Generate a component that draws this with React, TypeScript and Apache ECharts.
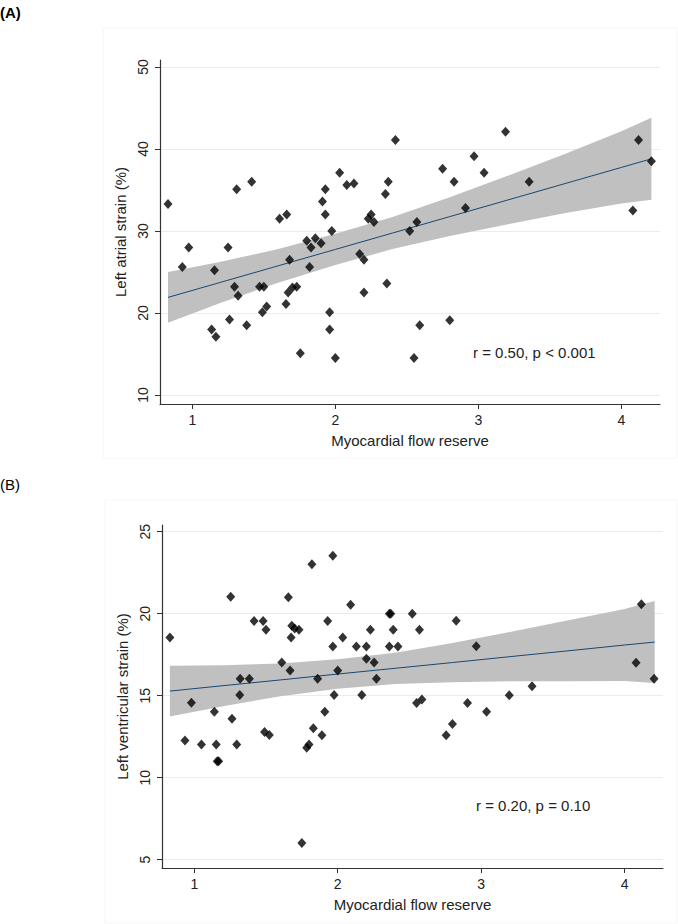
import React, { useEffect, useRef } from "react";
import * as echarts from "echarts";

// Panel A: myocardial flow reserve vs left atrial strain (%)
const mfrA = [0.83, 0.93, 0.975, 1.135, 1.155, 1.165, 1.25, 1.26, 1.295, 1.31, 1.32, 1.38, 1.415, 1.47, 1.5, 1.49, 1.52, 1.61, 1.655, 1.66, 1.67, 1.68, 1.7, 1.73, 1.755, 1.8, 1.82, 1.83, 1.86, 1.9, 1.91, 1.93, 1.93, 1.96, 1.96, 1.975, 2.0, 2.03, 2.08, 2.13, 2.17, 2.2, 2.2, 2.23, 2.25, 2.27, 2.35, 2.36, 2.37, 2.42, 2.52, 2.55, 2.57, 2.59, 2.75, 2.8, 2.83, 2.91, 2.97, 3.04, 3.19, 3.355, 4.08, 4.12, 4.21];
const lasA = [33.3, 25.6, 28.0, 18.0, 25.2, 17.1, 28.0, 19.2, 23.2, 35.1, 22.1, 18.5, 36.0, 23.2, 23.2, 20.1, 20.8, 31.5, 21.1, 32.0, 22.5, 26.5, 23.1, 23.2, 15.1, 28.8, 25.6, 28.0, 29.1, 28.5, 33.6, 35.1, 32.0, 20.1, 18.0, 30.0, 14.5, 37.1, 35.6, 35.8, 27.2, 26.5, 22.5, 31.5, 32.0, 31.1, 34.5, 23.6, 36.0, 41.1, 30.0, 14.5, 31.1, 18.5, 37.6, 19.1, 36.0, 32.8, 39.1, 37.1, 42.1, 36.0, 32.5, 41.1, 38.5];

// Panel B: myocardial flow reserve vs left ventricular strain (%)
const mfrB = [0.83, 0.935, 0.98, 1.05, 1.14, 1.153, 1.16, 1.17, 1.254, 1.263, 1.296, 1.317, 1.32, 1.384, 1.417, 1.48, 1.49, 1.5, 1.523, 1.61, 1.656, 1.668, 1.675, 1.68, 1.7, 1.73, 1.75, 1.784, 1.8, 1.82, 1.83, 1.86, 1.89, 1.91, 1.93, 1.966, 1.966, 1.975, 2.0, 2.035, 2.09, 2.13, 2.168, 2.2, 2.2, 2.228, 2.254, 2.27, 2.36, 2.37, 2.36, 2.387, 2.42, 2.52, 2.55, 2.57, 2.587, 2.756, 2.8, 2.826, 2.905, 2.966, 3.038, 3.196, 3.355, 4.08, 4.117, 4.206];
const lvsB = [18.55, 12.26, 14.57, 12.03, 14.02, 12.03, 11.0, 11.0, 21.04, 13.6, 12.03, 15.04, 16.04, 16.04, 19.55, 19.55, 12.78, 19.02, 12.6, 17.03, 21.01, 16.54, 18.55, 19.27, 19.09, 19.02, 6.01, 11.83, 12.03, 23.02, 13.02, 16.04, 12.58, 14.02, 19.55, 23.54, 18.0, 15.04, 16.54, 18.55, 20.55, 18.0, 15.04, 18.0, 17.26, 19.02, 17.03, 16.04, 20.0, 20.0, 18.0, 19.02, 18.0, 20.0, 14.55, 19.02, 14.77, 12.58, 13.27, 19.57, 14.55, 18.02, 14.02, 15.02, 15.57, 17.01, 20.57, 16.04];

// Fitted line with 95% CI band
const fitX = [0.83, 1.2, 1.6, 2.0, 2.4, 2.8, 3.2, 3.6, 4.0, 4.21];
const fitA = [21.9, 23.75, 25.75, 27.75, 29.75, 31.75, 33.75, 35.75, 37.75, 38.8];
const loA = [18.8, 21.25, 23.7, 25.85, 27.8, 29.4, 30.8, 32.15, 33.35, 33.8];
const hiA = [25.0, 26.25, 27.8, 29.65, 31.7, 34.1, 36.7, 39.35, 42.15, 43.8];
const fitB = [15.28, 15.61, 15.96, 16.32, 16.67, 17.02, 17.38, 17.73, 18.09, 18.27];
const loB = [13.73, 14.36, 14.96, 15.42, 15.72, 15.82, 15.88, 15.88, 15.89, 15.77];
const hiB = [16.83, 16.86, 16.96, 17.22, 17.62, 18.22, 18.88, 19.58, 20.29, 20.77];

const xTicks = [1, 2, 3, 4];
const yTicksA = [10, 20, 30, 40, 50];
const yTicksB = [5, 10, 15, 20, 25];

const FONT = "'Liberation Sans', Arial, sans-serif";
const TXT = "#222";
const GRID = "#e4eef0";
const BAND = "#c0c0c0";
const LINE = "#1a476f";

function xAxis(gridIndex: number, min: number, max: number) {
  return {
    type: "value",
    gridIndex,
    min,
    max,
    name: "Myocardial flow reserve",
    nameLocation: "middle",
    nameGap: 29,
    nameTextStyle: { color: TXT, fontSize: 15, fontFamily: FONT },
    axisLine: { show: true, onZero: false, lineStyle: { color: "#333", width: 1.2 } },
    axisTick: { show: true, length: 5, customValues: xTicks, lineStyle: { color: "#333" } },
    axisLabel: { customValues: xTicks, color: TXT, fontSize: 14, fontFamily: FONT, margin: 9 },
    splitLine: { show: false },
  };
}

function yAxis(gridIndex: number, min: number, max: number, ticks: number[], name: string) {
  return {
    type: "value",
    gridIndex,
    min,
    max,
    name,
    nameLocation: "middle",
    nameRotate: 90,
    nameGap: 28,
    nameTextStyle: { color: TXT, fontSize: 15, fontFamily: FONT },
    axisLine: { show: true, onZero: false, lineStyle: { color: "#333", width: 1.2 } },
    axisTick: { show: true, length: 5, customValues: ticks, lineStyle: { color: "#333" } },
    axisLabel: { customValues: ticks, rotate: 90, color: TXT, fontSize: 14, fontFamily: FONT, margin: 10 },
    splitLine: { show: true, lineStyle: { color: GRID, width: 1 } },
  };
}

function bandSeries(idx: number, lo: number[], hi: number[]) {
  return {
    type: "custom",
    xAxisIndex: idx,
    yAxisIndex: idx,
    silent: true,
    z: 1,
    data: fitX.map((x, i) => [x, lo[i], hi[i]]),
    renderItem: (params: any, api: any) => {
      if (params.dataIndex !== 0) return null;
      const top = fitX.map((x, i) => api.coord([x, hi[i]]));
      const bottom = fitX.map((x, i) => api.coord([x, lo[i]])).reverse();
      return {
        type: "polygon",
        shape: { points: top.concat(bottom) },
        style: { fill: BAND, stroke: "none" },
      };
    },
  };
}

function lineSeries(idx: number, fit: number[]) {
  return {
    type: "line",
    xAxisIndex: idx,
    yAxisIndex: idx,
    data: fitX.map((x, i) => [x, fit[i]]),
    symbol: "none",
    silent: true,
    z: 2,
    lineStyle: { color: LINE, width: 1 },
  };
}

function scatterSeries(idx: number, xs: number[], ys: number[]) {
  return {
    type: "scatter",
    xAxisIndex: idx,
    yAxisIndex: idx,
    data: xs.map((x, i) => [x, ys[i]]),
    symbol: "diamond",
    symbolSize: [9, 10],
    z: 3,
    itemStyle: { color: "#000" },
  };
}

export default function App() {
  const ref = useRef<HTMLDivElement>(null);
  useEffect(() => {
    if (!ref.current) return;
    const chart = echarts.init(ref.current, undefined, { renderer: "svg" });
    chart.setOption({
      animation: false,
      backgroundColor: "#fff",
      grid: [
        { left: 160, top: 60, width: 500, height: 344, containLabel: false },
        { left: 162, top: 525, width: 501, height: 343, containLabel: false },
      ],
      xAxis: [xAxis(0, 0.774, 4.27), xAxis(1, 0.775, 4.268)],
      yAxis: [
        yAxis(0, 8.9, 50.85, yTicksA, "Left atrial strain (%)"),
        yAxis(1, 4.49, 25.41, yTicksB, "Left ventricular strain (%)"),
      ],
      series: [
        bandSeries(0, loA, hiA),
        lineSeries(0, fitA),
        scatterSeries(0, mfrA, lasA),
        bandSeries(1, loB, hiB),
        lineSeries(1, fitB),
        scatterSeries(1, mfrB, lvsB),
      ],
      graphic: [
        { type: "rect", shape: { x: 103, y: 28, width: 574, height: 430 }, style: { fill: "none", stroke: "#f6f6f6", lineWidth: 1 }, silent: true },
        { type: "rect", shape: { x: 105, y: 500, width: 572, height: 423 }, style: { fill: "none", stroke: "#f6f6f6", lineWidth: 1 }, silent: true },
        { type: "text", left: 0, top: 5, style: { text: "(A)", font: `bold 15px ${FONT}`, fill: "#000" } },
        { type: "text", left: 0, top: 477, style: { text: "(B)", font: `15px ${FONT}`, fill: "#000" } },
        { type: "text", x: 473, y: 352, style: { text: "r = 0.50, p < 0.001", font: `15px ${FONT}`, fill: TXT, verticalAlign: "middle" } },
        { type: "text", x: 476, y: 805, style: { text: "r = 0.20, p = 0.10", font: `15px ${FONT}`, fill: TXT, verticalAlign: "middle" } },
      ],
    });
    return () => chart.dispose();
  }, []);
  return <div ref={ref} style={{ position: "absolute", left: 0, top: 0, width: 678, height: 924 }} />;
}
